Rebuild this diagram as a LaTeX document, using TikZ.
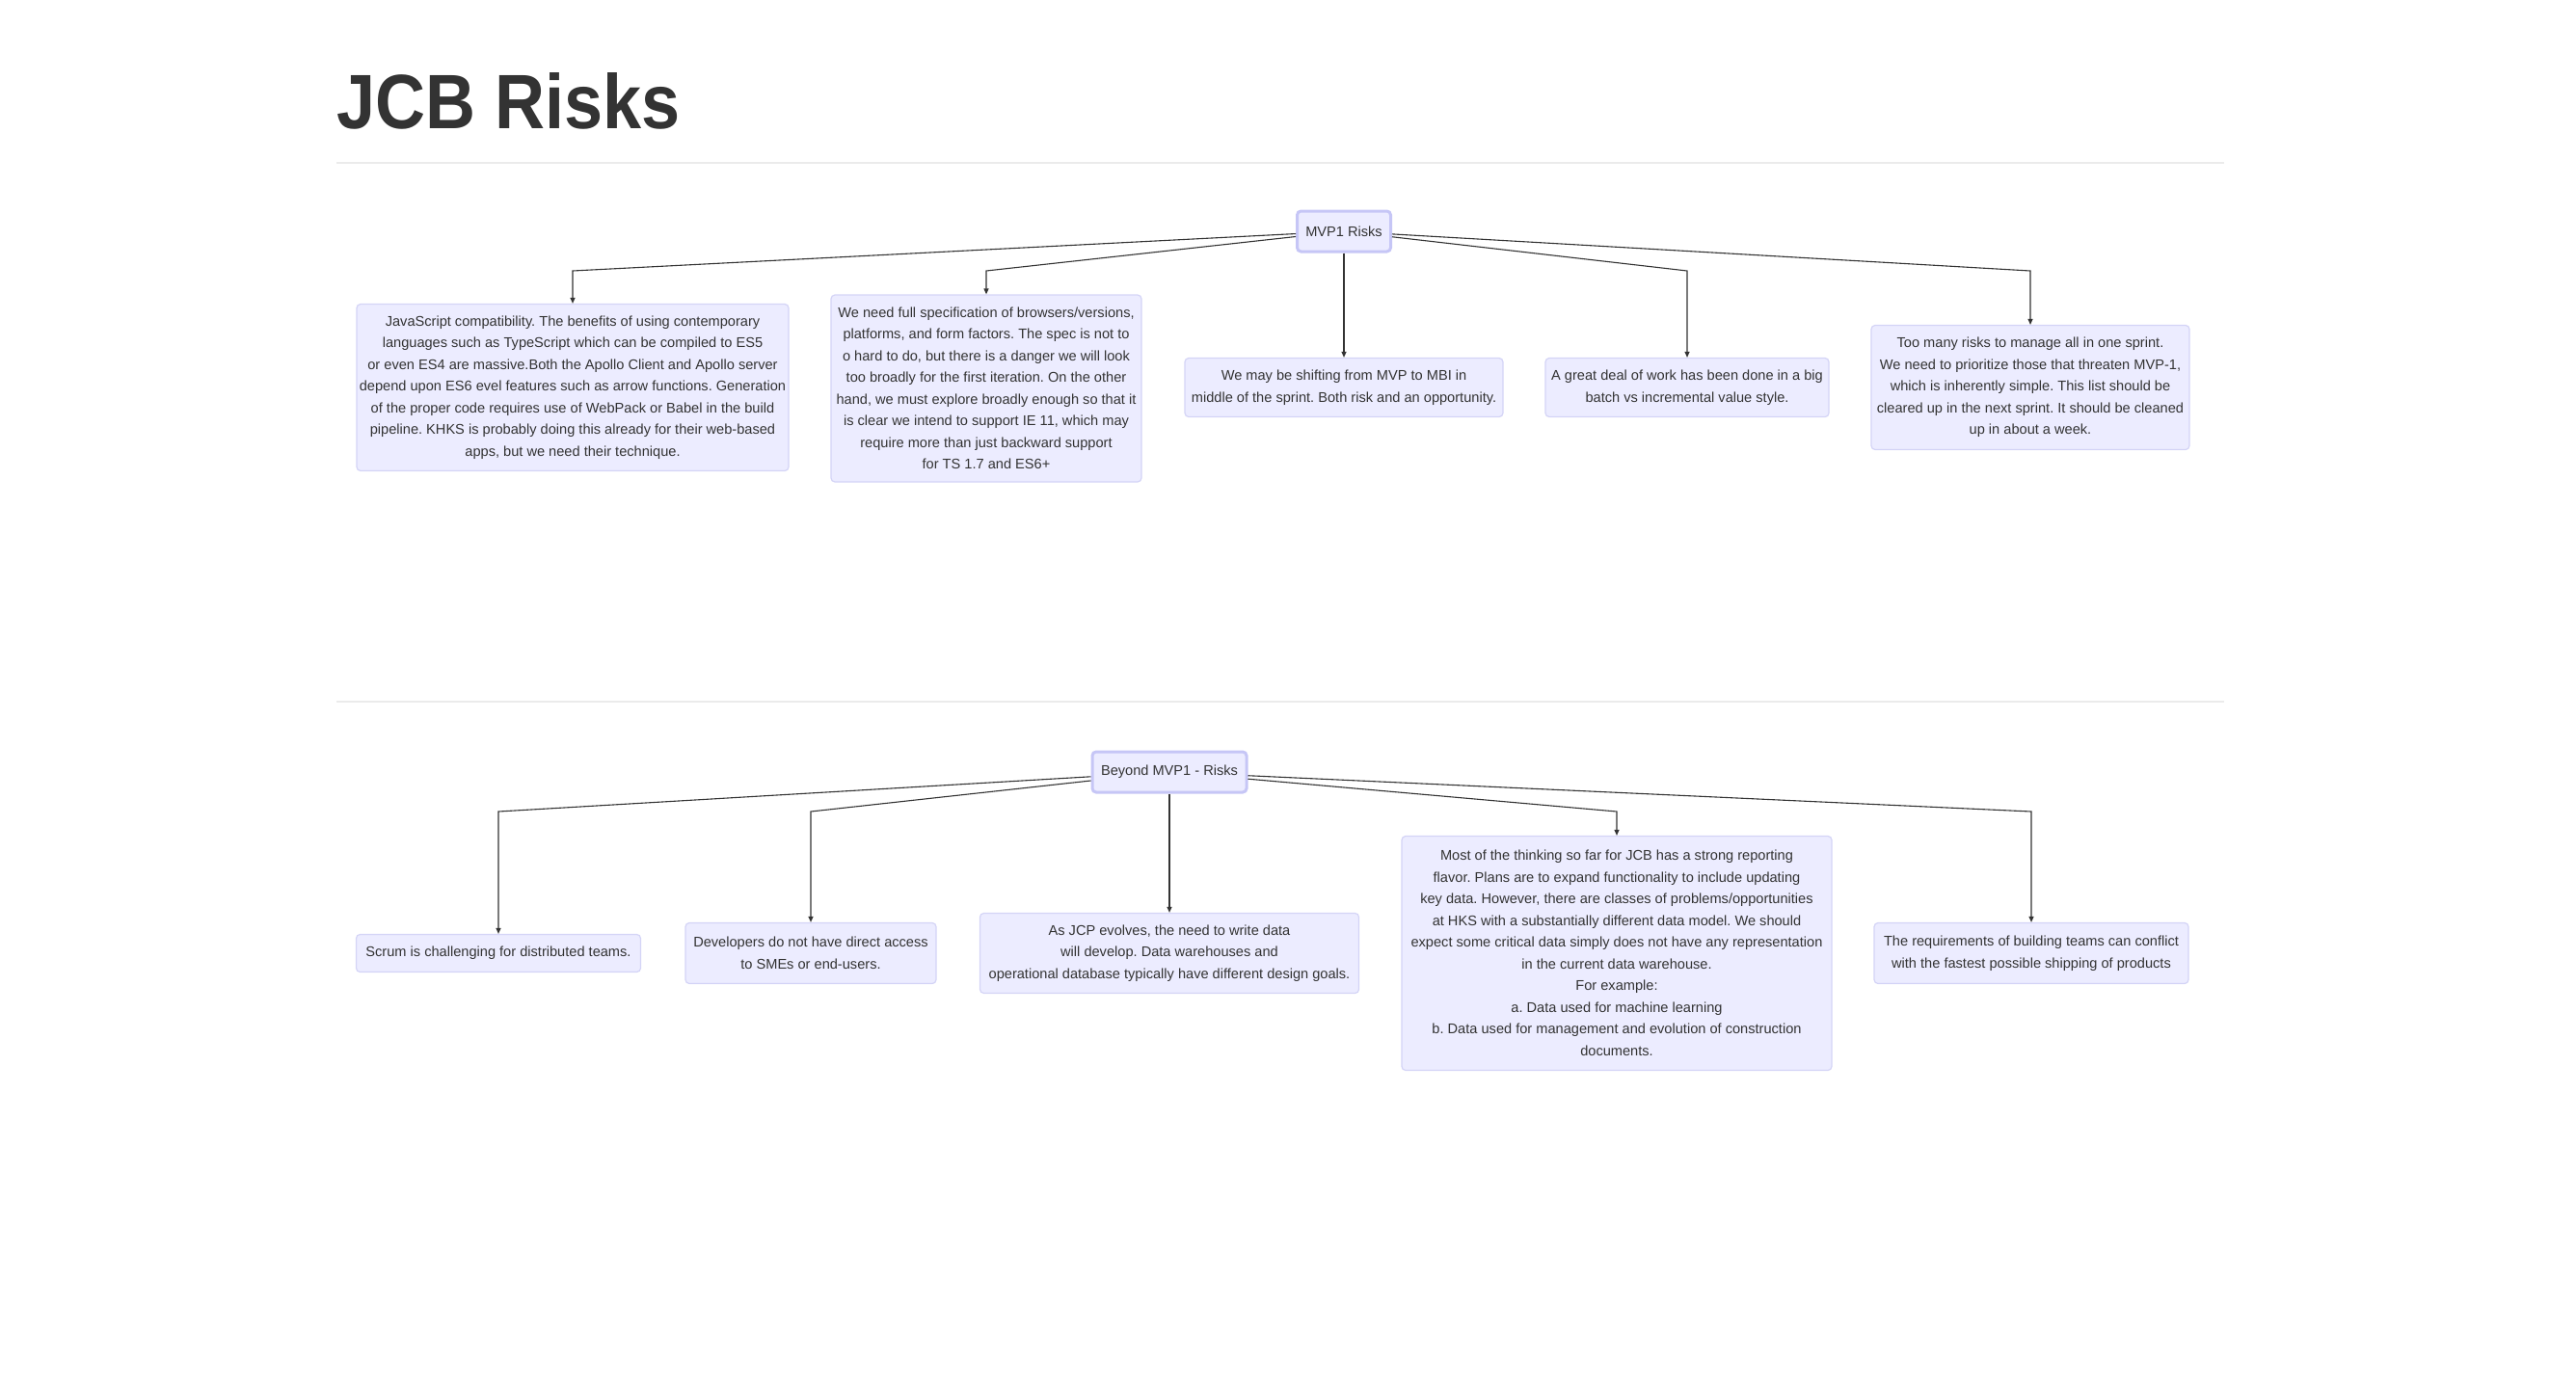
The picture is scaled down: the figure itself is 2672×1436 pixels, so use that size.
\documentclass[tikz,border=0pt]{standalone}
\usepackage{fontspec}
\setmainfont{Liberation Sans}
\usetikzlibrary{positioning}
\usetikzlibrary{arrows.meta}

\definecolor{ink}{HTML}{333333}
\definecolor{boxfill}{HTML}{ECECFF}
\definecolor{rootline}{HTML}{C6C6F6}
\definecolor{leafline}{HTML}{D4D4F6}
\definecolor{ruleline}{HTML}{EBEBEB}

\begin{document}
\frenchspacing
\begin{tikzpicture}[x=1pt, y=-1pt,
    risk/.style={draw=leafline, line width=1.2pt, fill=boxfill, rounded corners=4pt,
        align=center, inner sep=0pt, text=ink, font=\fontsize{14.6}{22.5}\selectfont},
    root/.style={risk, draw=rootline, line width=3pt},
    edge/.style={draw=ink, line width=1.1pt, -{Triangle[length=6pt,width=5pt]}},
    ]
    \useasboundingbox (0,0) rectangle (2672,1436);

    % Title
    \node[anchor=base west, inner sep=0pt, text=ink, xscale=0.9, transform shape,
        font=\fontsize{80}{80}\selectfont\bfseries] (title) at (349,133) {JCB Risks};
    \draw[ruleline, line width=2pt] (349,169) -- (2307,169);
    \draw[ruleline, line width=2pt] (349,728) -- (2307,728);

    % MVP1
    \coordinate (topbend) at (0,281);
    \node[root, minimum width=97, minimum height=42] (mvp) at (1394,240) {MVP1 Risks};
    \node[risk, minimum width=448, minimum height=173] (a) at (594,402)
        {JavaScript compatibility. The benefits of using contemporary\\
         languages such as TypeScript which can be compiled to ES5\\
         or even ES4 are massive.Both the Apollo Client and Apollo server\\
         depend upon ES6 evel features such as arrow functions. Generation\\
         of the proper code requires use of WebPack or Babel in the build\\
         pipeline. KHKS is probably doing this already for their web-based\\
         apps, but we need their technique.};
    \node[risk, minimum width=322, minimum height=194] (b) at (1023,403)
        {We need full specification of browsers/versions,\\
         platforms, and form factors. The spec is not to\\
         o hard to do, but there is a danger we will look\\
         too broadly for the first iteration. On the other\\
         hand, we must explore broadly enough so that it\\
         is clear we intend to support IE 11, which may\\
         require more than just backward support\\
         for TS 1.7 and ES6+};
    \node[risk, minimum width=330, minimum height=61] (c) at (1394,402)
        {We may be shifting from MVP to MBI in\\
         middle of the sprint. Both risk and an opportunity.};
    \node[risk, minimum width=294, minimum height=61] (d) at (1750,402)
        {A great deal of work has been done in a big\\
         batch vs incremental value style.};
    \node[risk, minimum width=330, minimum height=129] (e) at (2106,402)
        {Too many risks to manage all in one sprint.\\
         We need to prioritize those that threaten MVP-1,\\
         which is inherently simple. This list should be\\
         cleared up in the next sprint. It should be cleaned\\
         up in about a week.};

    \foreach \n in {a,b,d,e} {
        \draw[edge] (mvp) -- (topbend -| \n) -- (\n);
    }
    \draw[edge] (mvp) -- (c);

    % Beyond MVP1
    \coordinate (lowbend) at (0,842);
    \node[root, minimum width=160, minimum height=42] (beyond) at (1213,801) {Beyond MVP1 - Risks};
    \node[risk, minimum width=295, minimum height=39] (f) at (517,989)
        {Scrum is challenging for distributed teams.};
    \node[risk, minimum width=260, minimum height=63] (g) at (841,989)
        {Developers do not have direct access\\
         to SMEs or end-users.};
    \node[risk, minimum width=393, minimum height=83] (h) at (1213,989)
        {As JCP evolves, the need to write data\\
         will develop. Data warehouses and\\
         operational database typically have different design goals.};
    \node[risk, minimum width=446, minimum height=243] (i) at (1677,989)
        {Most of the thinking so far for JCB has a strong reporting\\
         flavor. Plans are to expand functionality to include updating\\
         key data. However, there are classes of problems/opportunities\\
         at HKS with a substantially different data model. We should\\
         expect some critical data simply does not have any representation\\
         in the current data warehouse.\\
         For example:\\
         a. Data used for machine learning\\
         b. Data used for management and evolution of construction\\
         documents.};
    \node[risk, minimum width=326, minimum height=63] (j) at (2107,989)
        {The requirements of building teams can conflict\\
         with the fastest possible shipping of products};

    \foreach \n in {f,g,i,j} {
        \draw[edge] (beyond) -- (lowbend -| \n) -- (\n);
    }
    \draw[edge] (beyond) -- (h);

\end{tikzpicture}
\end{document}
